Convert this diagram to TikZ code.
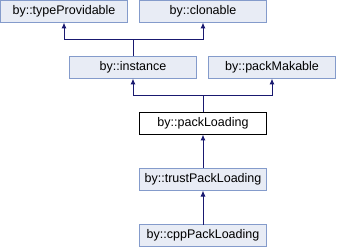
\documentclass[tikz,border=0pt]{standalone}
\usepackage{fontspec}
\setmainfont{Liberation Sans}
\usepackage{xcolor}
\usetikzlibrary{arrows.meta, positioning, calc}
\definecolor{boxfill}{HTML}{E8ECF5}
\definecolor{boxline}{HTML}{849BCB}
\definecolor{linkline}{HTML}{191970}
\tikzset{
  cls/.style={rectangle, draw=boxline, fill=boxfill, line width=1pt,
              minimum width=127pt, minimum height=22pt, inner sep=0pt,
              outer sep=0pt, font=\fontsize{12.5}{14}\selectfont},
  curcls/.style={cls, draw=black, fill=white},
  inh/.style={{Latex[length=6pt,width=5pt]}-, draw=linkline, line width=1pt}
}
\begin{document}
\begin{tikzpicture}[x=1pt, y=-1pt]
  \useasboundingbox (0,0) rectangle (337,248);
  % middle row
  \node[cls] (instance) at (133,67.5) {by::instance};
  \node[cls, right=12pt of instance] (makable) {by::packMakable};

  % top row
  \node[cls, above=34pt of instance, xshift=-69pt] (provider) {by::typeProvidable};
  \node[cls, right=12pt of provider] (clonable) {by::clonable};
  \draw[inh] (provider.south) -- ++(0,17) -| (instance.north);
  \draw[inh] (clonable.south) -- ++(0,17) -| (instance.north);

  % the class itself
  \node[curcls, below=34pt of instance, xshift=70pt] (loading) {by::packLoading};
  \draw[inh] (instance.south) -- ++(0,17) -| (loading.north);
  \draw[inh] (makable.south) -- ++(0,17) -| (loading.north);

  % derived classes
  \node[cls, below=34pt of loading] (trust) {by::trustPackLoading};
  \node[cls, below=34pt of trust] (cpp) {by::cppPackLoading};
  \draw[inh] (loading) -- (trust);
  \draw[inh] (trust) -- (cpp);
\end{tikzpicture}
\end{document}
